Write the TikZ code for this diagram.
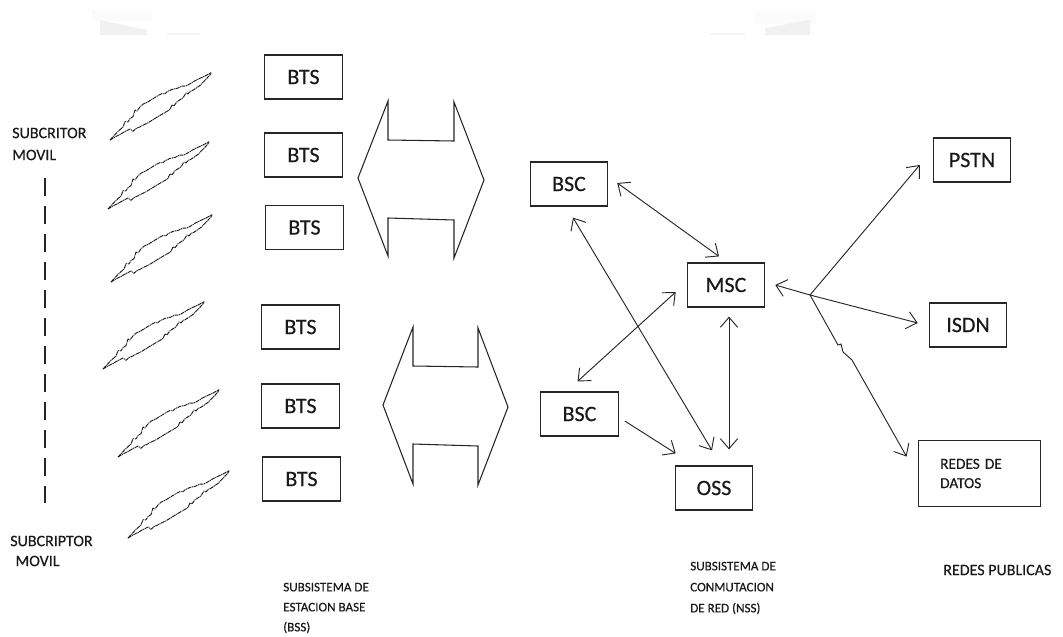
\documentclass[tikz,border=0pt]{standalone}
\usepackage{fontspec}
\setmainfont{Carlito}[FakeBold=0.35]
\usetikzlibrary{arrows.meta,calc}
\begin{document}
\begin{tikzpicture}[x=0.75pt,y=-0.75pt,
  box/.style={draw=black!85,line width=0.9pt,minimum width=58pt,minimum height=33pt,
    inner sep=0pt,font=\fontsize{16.5}{18}\selectfont,text=black!90},
  lbl/.style={anchor=west,align=left,inner sep=0pt,text=black!90,
    font=\fontsize{12}{16.5}\selectfont},
  caption/.style={lbl,font=\fontsize{9.8}{15}\selectfont},
  conn/.style={line width=0.7pt,draw=black!85,
    {Straight Barb[length=7.5pt,width=13pt]}-{Straight Barb[length=7.5pt,width=13pt]}},
  oneway/.style={line width=0.7pt,draw=black!85,-{Straight Barb[length=7.5pt,width=13pt]}},
  outline/.style={draw=black!85,line width=0.8pt,line join=miter},
  boltline/.style={draw=black!90,line width=0.7pt,line join=round,
    dash pattern=on 3pt off 0.5pt on 0.8pt off 0.5pt},
  bolt/.pic={
    % upper jagged edge of the radio bolt
    \draw[boltline] (0,0) -- (4,-4.3) -- (8,-8.6) -- (11,-11.2) -- (13,-13)
      -- (15,-18.3) -- (18,-18.2) -- (20,-21.4) -- (23,-23.4) -- (25,-30)
      -- (27,-29) -- (30,-33.1) -- (33,-35.8) -- (38,-38.2) -- (43,-41.3)
      -- (48,-44.4) -- (52,-46.5) -- (55,-46.4) -- (57,-48.2) -- (62,-50.6)
      -- (67,-51.6) -- (72,-53.9) -- (76,-54) -- (80,-56.2) -- (85,-59.3)
      -- (90,-61.7) -- (95,-64) -- (101,-67.3) -- (100,-65);
    % lower jagged edge
    \draw[boltline] (0,0) -- (5,-3.1) -- (10,-5.5) -- (15,-8.5) -- (20,-10.9)
      -- (23,-8.7) -- (26,-11.4) -- (29,-12.7) -- (33,-14.8) -- (38,-17.2)
      -- (43,-20.3) -- (48,-23.4) -- (53,-26.4) -- (57,-28.6) -- (60,-30.6)
      -- (62,-35.2) -- (64,-34.2) -- (67,-38.3) -- (70,-40.2) -- (73,-42.2)
      -- (76,-47) -- (78,-46) -- (80,-48.5) -- (83,-49.8) -- (86,-51.8)
      -- (90,-54.6) -- (95,-59.8) -- (100,-65);
  }
]
\useasboundingbox (0,0) rectangle (1063,636);

% faint marks along the top edge
\fill[gray!3] (92,10) rectangle (152,21);
\fill[gray!11] (100,20) -- (147,30) -- (147,35) -- (100,35) -- cycle;
\fill[gray!8] (167,33) rectangle (200,35);
\fill[gray!3] (754,10) rectangle (816,24);
\fill[gray!11] (765,28) -- (810,20) -- (810,35) -- (765,35) -- cycle;
\fill[gray!8] (710,33) rectangle (745,35);

% mobile subscribers
\node[lbl] (sub1) at (12,144) {SUBCRITOR\\MOVIL};
\node[lbl,font=\fontsize{12}{15}\selectfont] (sub2) at (10,551) {SUBCRIPTOR\\\hspace{4pt}MOVIL};
\coordinate (dtop) at (45,178);
\coordinate (dbot) at (45,503);
\draw[black!85,line width=0.8pt,dash pattern=on 13.5pt off 7.5pt] (dtop) -- (dbot);

% radio links
\pic at (110,140) {bolt};
\pic at (108,209) {bolt};
\pic at (111,282) {bolt};
\pic at (103,369) {bolt};
\pic at (118,457) {bolt};
\pic at (128,538) {bolt};

% base transceiver stations
\node[box] (bts1) at (303.5,77) {BTS};
\node[box] (bts2) at (303.5,155) {BTS};
\node[box] (bts3) at (304.5,227.5) {BTS};
\node[box] (bts4) at (300.5,327) {BTS};
\node[box] (bts5) at (300.5,406) {BTS};
\node[box] (bts6) at (301.5,479) {BTS};

% Abis interface block arrows
\draw[outline] (358,178) -- (388,101) -- (388,140) -- (454,141) -- (454,102)
  -- (484,180) -- (454,258) -- (454,220) -- (388,218) -- (388,256) -- cycle;
\draw[outline] (383,405) -- (413,327) -- (413,366) -- (478,367) -- (478,328)
  -- (508,407) -- (478,485) -- (478,446) -- (413,444) -- (413,484) -- cycle;

% controllers and switching
\node[box] (bsc1) at (569,184) {BSC};
\node[box] (msc) at (726,285) {MSC};
\node[box] (bsc2) at (579.5,414) {BSC};
\node[box] (oss) at (714,488) {OSS};

\draw[conn] ($(bsc1.east)+(9,-1)$) -- ($(msc.north)+(-7,-6)$);
\draw[conn] ($(bsc1.south)+(4,11)$) -- ($(oss.north)+(-2,-15)$);
\draw[conn] ($(bsc2.north)+(-2,-10)$) -- ($(msc.west)+(-11,7)$);
\draw[conn] ($(msc.south)+(3,9)$) -- ($(oss.north)+(15,-16)$);
\draw[oneway] ($(bsc2.east)+(6,7)$) -- ($(oss.north west)+(1,-12)$);

% public networks
\node[box] (pstn) at (972,160) {PSTN};
\node[box] (isdn) at (968,325) {ISDN};
\node[box,minimum width=92pt,minimum height=50pt,text width=59pt,inner xsep=16.5pt,
  align=left,font=\fontsize{11.5}{14.5}\selectfont] (redes) at (979.5,473.5) {REDES DE\\DATOS};

\coordinate (hub) at (810,295);
\draw[oneway] (hub) -- ($(msc.east)+(10,0)$);
\draw[oneway] (hub) -- ($(pstn.west)+(-13,5)$);
\draw[oneway] (hub) -- ($(isdn.west)+(-11,-2)$);
\draw[oneway] (hub) -- (838,345) -- (841,344) -- (843,352) -- (852,360)
  -- ($(redes.north west)+(-11,17)$);

% subsystem captions
\node[caption] (bss) at (283,608) {SUBSISTEMA DE\\ESTACION BASE\\(BSS)};
\node[caption,font=\fontsize{9.8}{15.75}\selectfont] (nss) at (690,588) {SUBSISTEMA DE\\CONMUTACION\\DE RED (NSS)};
\node[lbl] (pub) at (943,570) {REDES PUBLICAS};
\end{tikzpicture}
\end{document}
